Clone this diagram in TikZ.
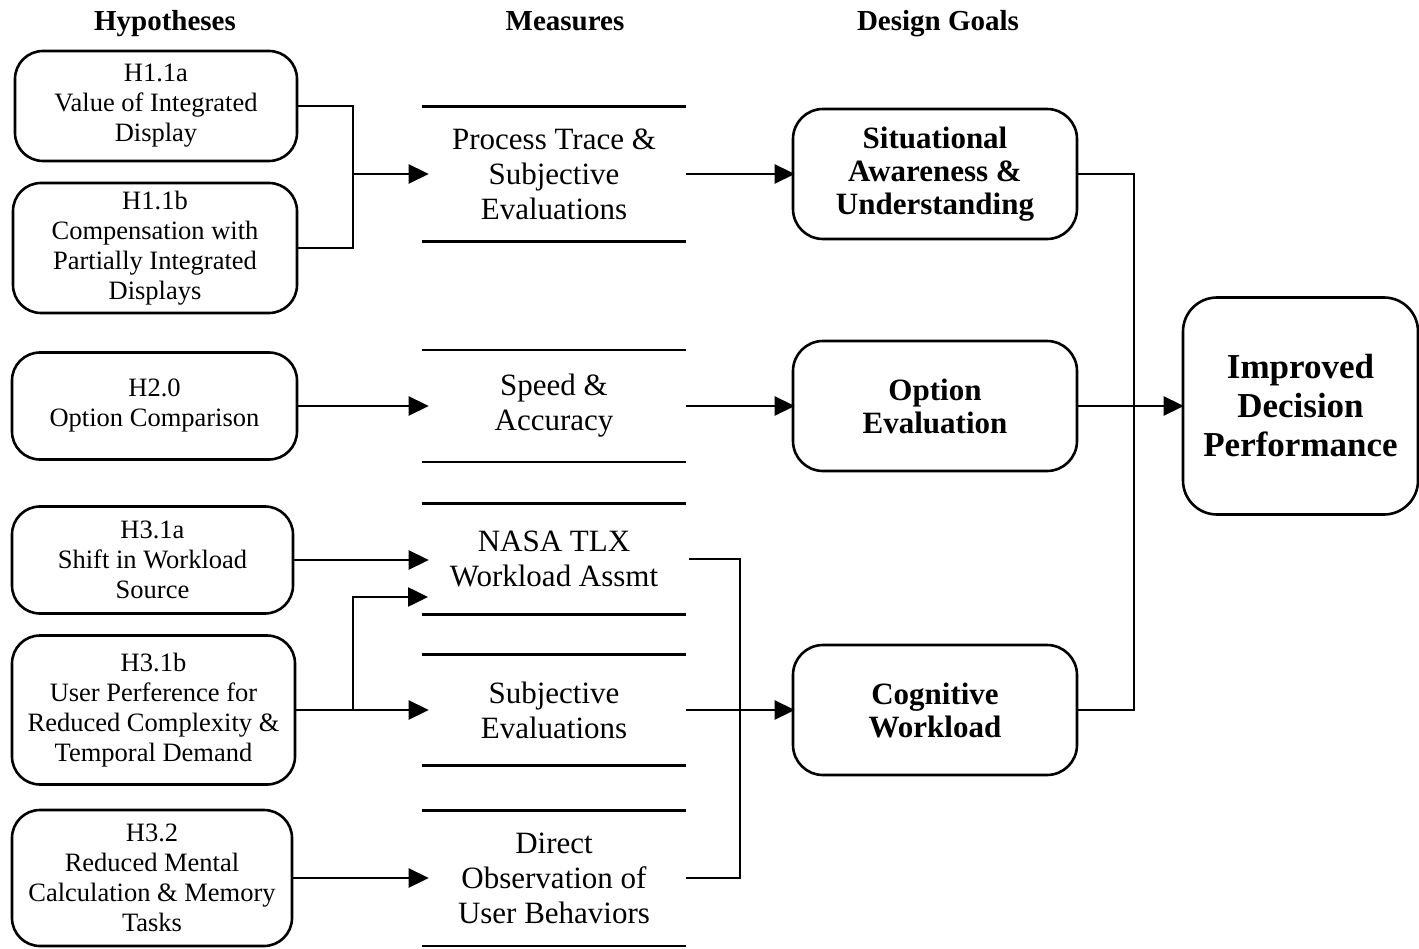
\documentclass[tikz,border=0pt]{standalone}
\usepackage{fontspec}
\setmainfont{Liberation Serif}
\usetikzlibrary{arrows.meta}
\begin{document}
\begin{tikzpicture}[x=1pt,y=-1pt,
  line width=2.6pt,
  hypbox/.style={draw, rounded corners=28pt, align=center, inner sep=0pt,
    font=\fontsize{26.5}{30}\selectfont},
  measure/.style={align=center, inner sep=0pt, minimum width=262pt,
    font=\fontsize{31}{35}\selectfont,
    append after command={
      (\tikzlastnode.north west) edge[-] (\tikzlastnode.north east)
      (\tikzlastnode.south west) edge[-] (\tikzlastnode.south east)}},
  goal/.style={draw, rounded corners=30pt, align=center, inner sep=0pt,
    minimum width=284pt, minimum height=130pt,
    font=\fontsize{31}{33}\selectfont\bfseries},
  header/.style={anchor=base, font=\fontsize{29}{33}\selectfont\bfseries},
  arrow/.style={-{Triangle[length=20pt,width=19pt]}},
]
\useasboundingbox (0,0) rectangle (1419,949);

% column headings
\node[header] (hh) at (165,31) {Hypotheses};
\node[header] (hm) at (565,31) {Measures};
\node[header] (hg) at (938,31) {Design Goals};

% hypotheses
\node[hypbox, minimum width=282pt, minimum height=110pt] (h11a) at (156,106)
  {H1.1a\\Value of Integrated\\Display};
\node[hypbox, minimum width=284pt, minimum height=130pt] (h11b) at (155,248)
  {H1.1b\\Compensation with\\Partially Integrated\\Displays};
\node[hypbox, minimum width=285pt, minimum height=107pt] (h20) at (154.5,406)
  {H2.0\\Option Comparison};
\node[hypbox, minimum width=281pt, minimum height=107pt] (h31a) at (152.5,560)
  {H3.1a\\Shift in Workload\\Source};
\node[hypbox, minimum width=283pt, minimum height=149pt] (h31b) at (153.5,710)
  {H3.1b\\User Perference for\\Reduced Complexity \&\\Temporal Demand};
\node[hypbox, minimum width=280pt, minimum height=136pt] (h32) at (152,878)
  {H3.2\\Reduced Mental\\Calculation \& Memory\\Tasks};

% measures
\node[measure, minimum height=132pt] (m1) at (554,174) {Process Trace \&\\Subjective\\Evaluations};
\node[measure, minimum height=109pt] (m2) at (554,406) {Speed \&\\Accuracy};
\node[measure, minimum height=108pt] (m3) at (554,559) {NASA TLX\\Workload Assmt};
\node[measure, minimum height=108pt] (m4) at (554,710) {Subjective\\Evaluations};
\node[measure, minimum height=133pt] (m5) at (554,878) {Direct\\Observation of\\User Behaviors};

% design goals
\node[goal] (g1) at (935,174) {Situational\\Awareness \&\\Understanding};
\node[goal] (g2) at (935,406) {Option\\Evaluation};
\node[goal] (g3) at (935,710) {Cognitive\\Workload};

% outcome
\node[draw, rounded corners=34pt, align=center, inner sep=0pt,
  minimum width=235pt, minimum height=217pt,
  font=\fontsize{35}{39}\selectfont\bfseries] (imp) at (1300.5,406)
  {Improved\\Decision\\Performance};

% junction points
\coordinate (j1) at (353,174);
\coordinate (j2) at (353,710);
\coordinate (b2) at (428,597);
\coordinate (j3) at (740,878);
\coordinate (j4) at (1134,710);

% hypotheses to measures
\draw (h11a.east) -| (j1);
\draw (h11b.east) -| (j1);
\draw[arrow] (j1) -- ([xshift=7pt]m1.west);
\draw[arrow] (h20.east) -- ([xshift=7pt]m2.west);
\draw[arrow] (h31a.east) -- ([xshift=7pt]m3.west |- h31a.east);
\draw[arrow] (h31b.east) -- ([xshift=7pt]m4.west);
\draw[arrow] (j2) |- (b2);
\draw[arrow] (h32.east) -- ([xshift=7pt]m5.west);

% measures to design goals
\draw[arrow] (m1.east) -- ([xshift=3pt]g1.west);
\draw[arrow] (m2.east) -- ([xshift=3pt]g2.west);
\draw ([xshift=3pt]m3.east) -| (j3) -- (m5.east);
\draw[arrow] (m4.east) -- ([xshift=3pt]g3.west);

% design goals to outcome
\draw (g1.east) -| (j4) -- (g3.east);
\draw[arrow] (g2.east) -- ([xshift=2pt]imp.west);
\end{tikzpicture}
\end{document}
